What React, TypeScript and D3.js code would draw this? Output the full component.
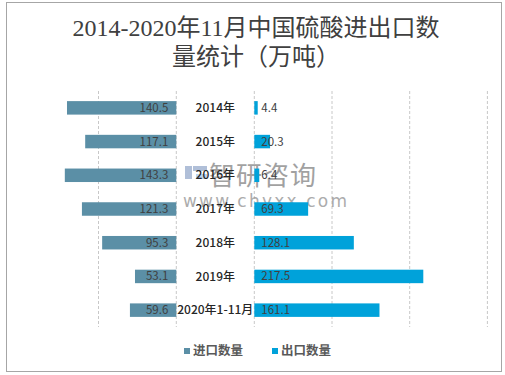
import React from "react";
import * as d3 from "d3";

const categories = ["2014年", "2015年", "2016年", "2017年", "2018年", "2019年", "2020年1-11月"];
const importValues = [140.5, 117.1, 143.3, 121.3, 95.3, 53.1, 59.6];
const exportValues = [4.4, 20.3, 6.4, 69.3, 128.1, 217.5, 161.1];
const leftTicks = [0, 100];
const rightTicks = [0, 100, 200, 300];
const seriesNames = ["进口数量", "出口数量"];
const titleLines = ["2014-2020年11月中国硫酸进出口数", "量统计（万吨）"];

const IMPORT_COLOR = "#5b8fa6";
const EXPORT_COLOR = "#00a2da";
const SANS = "'Noto Sans CJK SC', 'Liberation Sans', sans-serif";
const SERIF = "'Liberation Serif', 'Noto Sans CJK SC', serif";

export default function App() {
  const W = 505, H = 375;
  const top = 91, bottom = 327;
  const xL = d3.scaleLinear().domain([0, 100]).range([176.3, 98.5]);
  const xR = d3.scaleLinear().domain([0, 100]).range([254.3, 332]);
  const y = d3.scaleBand<string>().domain(categories).range([top, bottom]).paddingInner(0.6).paddingOuter(0.3);
  const bh = y.bandwidth();

  return (
    <svg width={W} height={H} style={{ position: "absolute", left: 0, top: 0 }}>
      <rect x={0} y={0} width={W} height={H} fill="#fff" />
      <rect x={6.5} y={2.5} width={495} height={369} fill="none" stroke="#a6a6a6" strokeWidth={1} />
      {titleLines.map((t, i) => (
        <text key={i} x={256} y={36 + i * 29} textAnchor="middle" fontFamily={SERIF} fontSize={24} fill="#404040">{t}</text>
      ))}
      {leftTicks.map((t) => (
        <line key={"l" + t} x1={xL(t)} x2={xL(t)} y1={top} y2={bottom} stroke="#c8c8c8" strokeDasharray="3,2" />
      ))}
      {rightTicks.map((t) => (
        <line key={"r" + t} x1={xR(t)} x2={xR(t)} y1={top} y2={bottom} stroke="#c8c8c8" strokeDasharray="3,2" />
      ))}
      {/* watermark */}
      <g opacity={0.7}>
        <rect x={185} y={166} width={7} height={13} fill="#8fa5c8" />
        <rect x={193} y={166} width={14} height={5} fill="#8fa5c8" />
        <rect x={196} y={174} width={11} height={5} fill="#9ec2ea" />
        <text x={209} y={185} fontFamily={SANS} fontSize={26} fill="#7a7a7a" letterSpacing={1}>智研咨询</text>
        <text x={183} y={207} fontFamily="'DejaVu Sans', sans-serif" fontSize={17} fill="#8a8a8a" letterSpacing={2.2}>www.chyxx.com</text>
      </g>
      {categories.map((c, i) => {
        const yy = y(c)!;
        const cy = yy + bh / 2;
        return (
          <g key={c}>
            <rect x={xL(importValues[i])} y={yy} width={xL(0) - xL(importValues[i])} height={bh} fill={IMPORT_COLOR} />
            <rect x={xR(0)} y={yy} width={xR(exportValues[i]) - xR(0)} height={bh} fill={EXPORT_COLOR} />
            <text x={xL(0) - 8} y={cy} dy="0.35em" textAnchor="end" fontFamily={SANS} fontSize={11.5} fill="#404040">{importValues[i].toFixed(1)}</text>
            <text x={xR(0) + 7} y={cy} dy="0.35em" textAnchor="start" fontFamily={SANS} fontSize={11.5} fill="#404040">{exportValues[i].toFixed(1)}</text>
            <text x={(xL(0) + xR(0)) / 2} y={cy} dy="0.35em" textAnchor="middle" fontFamily={SANS} fontSize={12} fontWeight={500} fill="#262626">{c}</text>
          </g>
        );
      })}
      {/* legend */}
      {seriesNames.map((n, i) => {
        const lx = i === 0 ? 184 : 272;
        return (
          <g key={n}>
            <rect x={lx} y={348} width={6} height={6} fill={i === 0 ? IMPORT_COLOR : EXPORT_COLOR} />
            <text x={lx + 9} y={351} dy="0.35em" fontFamily={SANS} fontSize={12.5} fontWeight="bold" fill="#595959">{n}</text>
          </g>
        );
      })}
    </svg>
  );
}
